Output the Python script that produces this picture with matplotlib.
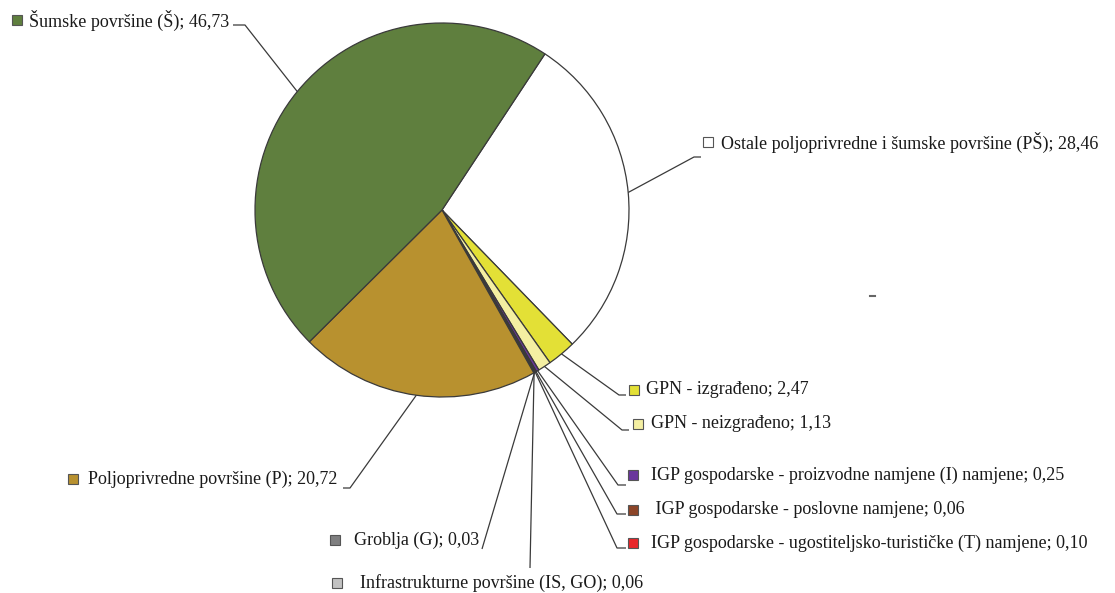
import numpy as np
import matplotlib.pyplot as plt

plt.rcParams['font.family'] = ['Liberation Serif', 'DejaVu Serif']

W, H = 1115, 593

# data (clockwise from the top-right edge of the green slice)
labels = ['Ostale poljoprivredne i šumske površine (PŠ)',
          'GPN - izgrađeno',
          'GPN - neizgrađeno',
          'IGP gospodarske - proizvodne namjene (I) namjene',
          ' IGP gospodarske - poslovne namjene',
          'IGP gospodarske - ugostiteljsko-turističke (T) namjene',
          'Groblja (G)',
          'Infrastrukturne površine (IS, GO)',
          'Poljoprivredne površine (P)',
          'Šumske površine (Š)']
values = [28.46, 2.47, 1.13, 0.25, 0.06, 0.10, 0.03, 0.06, 20.72, 46.73]
colors = ['#ffffff', '#e3e036', '#f4efa2', '#6a369c', '#8c4528', '#e8262a',
          '#7f7f80', '#c2c2c2', '#b8912f', '#5f7f3e']

# label layout in pixels: marker x, text x, text y, leader elbow, leader end
layout = [
    (708, 721, 142, (694, 157), (701, 157)),
    (634, 646, 390, (619, 395), (626, 395)),
    (638, 651, 424, (622, 430), (629, 430)),
    (633, 651, 475, (618, 485), (626, 485)),
    (633, 651, 510, (617, 514), (626, 514)),
    (633, 651, 543, (617, 548), (626, 548)),
    (335, 354, 540, (482, 549), (482, 549)),
    (337, 360, 583, (530, 568), (530, 568)),
    (73, 88, 479, (350, 488), (343, 488)),
    (17, 29, 20, (245, 25), (233, 25)),
]

cx, cy, r = 442, 210, 187

def fy(y):
    return H - y

fig = plt.figure(figsize=(W / 100, H / 100), dpi=100)
ax = fig.add_axes([0, 0, 1, 1])
wedges, _ = ax.pie(values, colors=colors, startangle=56.6, counterclock=False,
                   radius=r, center=(cx, fy(cy)),
                   wedgeprops=dict(edgecolor='#3a3a3a', linewidth=0.9))
ax.set_xlim(0, W)
ax.set_ylim(0, H)
ax.set_aspect('equal')
ax.axis('off')

for w, lab, val, col, (mx, tx, ty, elbow, end) in zip(wedges, labels, values, colors, layout):
    mid = np.deg2rad((w.theta1 + w.theta2) / 2)
    px = cx + r * np.cos(mid)
    py = fy(cy) + r * np.sin(mid)
    ax.plot([px, elbow[0], end[0]], [py, fy(elbow[1]), fy(end[1])],
            color='#3a3a3a', lw=0.9, solid_capstyle='butt')
    ax.plot(mx, fy(ty), marker='s', markersize=6.5, markerfacecolor=col,
            markeredgecolor='#555555', markeredgewidth=0.8)
    txt = lab + '; ' + ('%.2f' % val).replace('.', ',')
    ax.text(tx, fy(ty), txt, fontsize=13, va='center', ha='left', color='#1a1a1a')

# small stray mark on the right
ax.plot([870, 875], [fy(296), fy(296)], color='#666666', lw=1.5)

fig.savefig('out.png', dpi=100)
